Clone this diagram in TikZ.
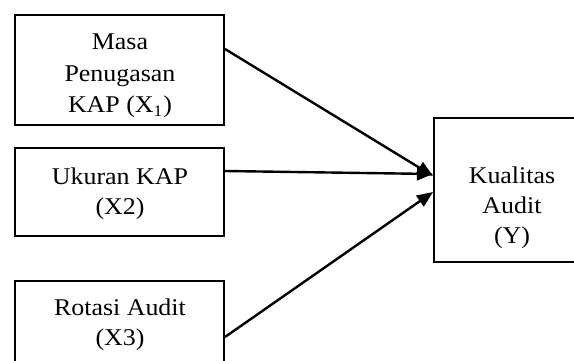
\documentclass[tikz,border=0pt]{standalone}
\usepackage{fontspec}
\setmainfont{Liberation Serif}[FakeStretch=1.08]
\usetikzlibrary{arrows.meta,calc}
\begin{document}
\begin{tikzpicture}[x=0.5pt,y=-0.5pt,
  box/.style={draw, line width=1pt, inner sep=0pt},
  txt/.style={align=center, font=\fontsize{12}{15}\selectfont, inner sep=0pt},
  link/.style={line width=1.2pt, -{Triangle[length=8pt,width=6.5pt]}}]
\useasboundingbox (0,0) rectangle (574,360);
\clip (0,0) rectangle (574,360);

% variable boxes
\node[box, minimum width=104.5pt, minimum height=55pt] (b1) at (119.5,70) {};
\node[box, minimum width=104.5pt, minimum height=44pt] (b2) at (119.5,192) {};
\node[box, minimum width=104.5pt, minimum height=44.5pt] (b3) at (119.5,325.5) {};
\node[box, minimum width=78pt, minimum height=72pt] (y) at (512,190) {};

% labels
\node[txt, font=\fontsize{12}{15.75}\selectfont] (t1) at (120,76) {Masa\\Penugasan\\KAP (X\textsubscript{1})};
\node[txt] (t2) at (120,193.5) {Ukuran KAP\\(X2)};
\node[txt] (t3) at (120,324.5) {Rotasi Audit\\(X3)};
\node[txt] (ty) at (512,208) {Kualitas\\Audit\\(Y)};

% influence arrows
\draw[link] ($(b1.north east)+(0,35)$) -- ($(y.north west)+(0,59)$);
\draw[link] ($(b2.north east)+(0,24)$) -- ($(y.north west)+(0,57)$);
\draw[link] ($(b3.north east)+(0,57)$) -- ($(y.north west)+(0,75)$);
\end{tikzpicture}
\end{document}
